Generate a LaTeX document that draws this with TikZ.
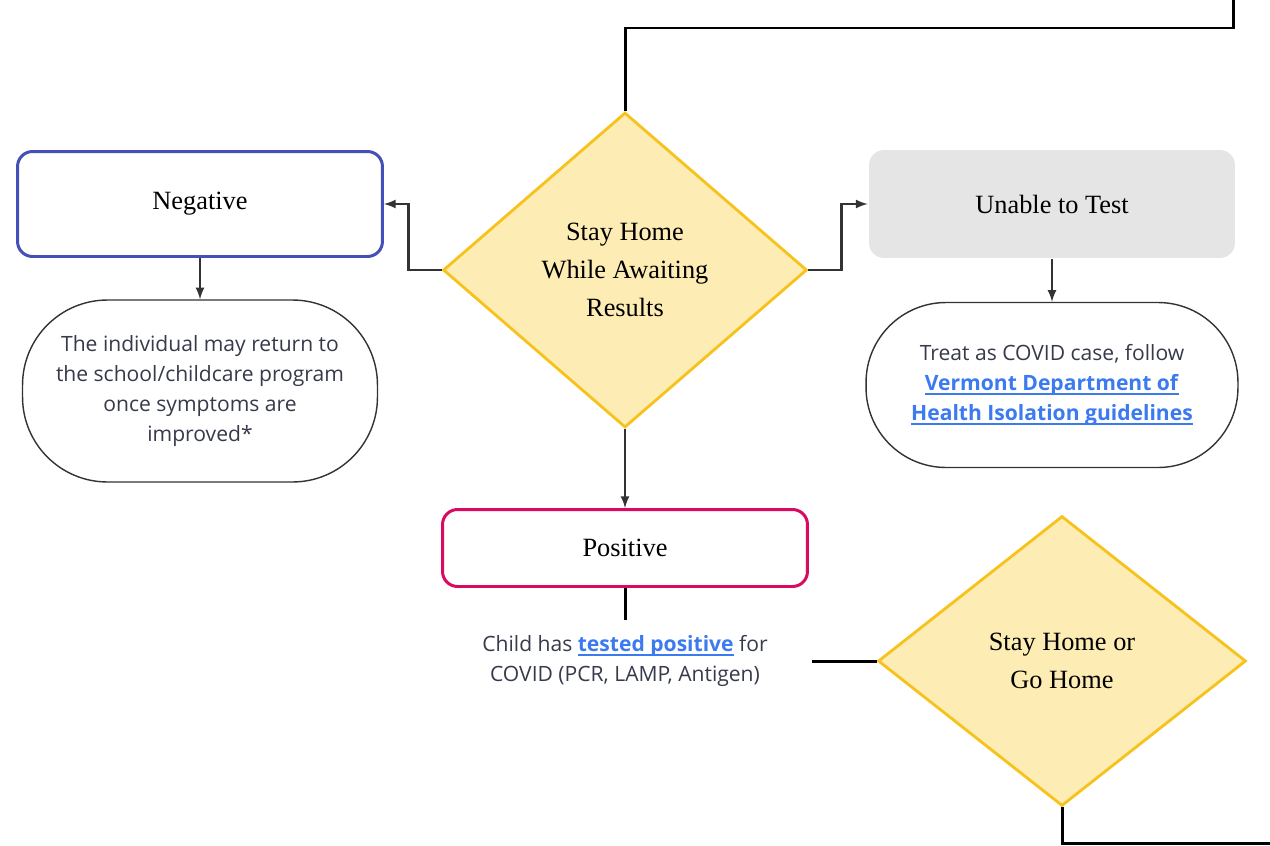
\documentclass[tikz,border=0pt]{standalone}
\usepackage{xcolor}
\usepackage{fontspec}
\setmainfont{Liberation Serif}
\newfontfamily\bodyfont{Open Sans}
\usetikzlibrary{shapes,arrows,positioning,calc}
\definecolor{negblue}{RGB}{68,80,184}
\definecolor{pospink}{RGB}{218,10,95}
\definecolor{waitgold}{RGB}{246,194,27}
\definecolor{waitfill}{RGB}{253,236,180}
\definecolor{linkblue}{RGB}{60,122,240}
\definecolor{bodygray}{RGB}{55,58,75}
\newcommand{\weblink}[1]{\textcolor{linkblue}{\setbox0\hbox{\textbf{#1}}\rlap{\rule[-2.6pt]{\wd0}{1.3pt}}\box0}}

\begin{document}
\begin{tikzpicture}[x=0.02cm, y=-0.02cm,
        result/.style={rectangle, rounded corners=0.3cm, line width=1.7pt, minimum width=7.3cm, align=center, fill=white, text=black, font=\fontsize{15}{18}\selectfont},
        wait/.style={diamond, draw=waitgold, line width=1.6pt, fill=waitfill, inner sep=0pt, align=center, text=black, font=\fontsize{15}{21.5}\selectfont},
        advice/.style={rectangle, draw=black!80, thick, align=center, fill=white, text=bodygray, font=\bodyfont\fontsize{12}{17}\selectfont},
        arrow/.style={->, >=latex, line width=1.3pt, draw=black!80},
        link/.style={line width=1.7pt, draw=black}]

        \useasboundingbox (0,0) rectangle (1270,845);

        % Nodes
        \node[result, draw=negblue, minimum height=2.1cm] (neg) at (200,204) {Negative};
        \node[wait, minimum width=7.28cm, minimum height=6.3cm] (wait) at (625,270) {Stay Home\\While Awaiting\\Results};
        \node[result, draw=none, fill=gray!20, minimum width=7.32cm, minimum height=2.16cm] (unable) at (1052,204) {Unable to Test};

        \node[advice, rounded corners=1.7cm, minimum width=7.1cm, minimum height=3.64cm] (negnext) at (200,391) {The individual may return to\\the school/childcare program\\once symptoms are\\improved*};
        \node[advice, rounded corners=1.6cm, minimum width=7.44cm, minimum height=3.3cm] (unablenext) at (1052,385) {Treat as COVID case, follow\\\weblink{Vermont Department of}\\\weblink{Health Isolation guidelines}};

        \node[result, draw=pospink, minimum height=1.54cm] (pos) at (625,548) {Positive};
        \node[text=bodygray, align=center, font=\bodyfont\fontsize{12}{17}\selectfont] (posnote) at (625,661) {Child has \weblink{tested positive} for\\COVID (PCR, LAMP, Antigen)};
        \node[wait, minimum width=7.36cm, minimum height=5.8cm] (gohome) at (1062,661) {Stay Home or\\Go Home};

        \coordinate (posstub) at (625,620);
        \coordinate (gostart) at (812,661);
        \coordinate (goexit) at (1272,843);
        \coordinate (topcorner) at (1233,28);
        \coordinate (topexit) at (1233,-2);

        % Connections
        \draw[arrow] (wait.west) -- ++(-33,0) |- (neg.east);
        \draw[arrow] (wait.east) -- ++(33,0) |- (unable.west);
        \draw[arrow] (neg.south) -- (negnext.north);
        \draw[arrow] (unable.south) -- (unablenext.north);
        \draw[arrow] (wait.south) -- (pos.north);
        \draw[link] (pos.south) -- (posstub);
        \draw[link] (gostart) -- (gohome.west);
        \draw[link] (gohome.south) |- (goexit);

        % Line leaving at the top
        \draw[link] (wait.north) |- (topcorner) -- (topexit);

\end{tikzpicture}
\end{document}
